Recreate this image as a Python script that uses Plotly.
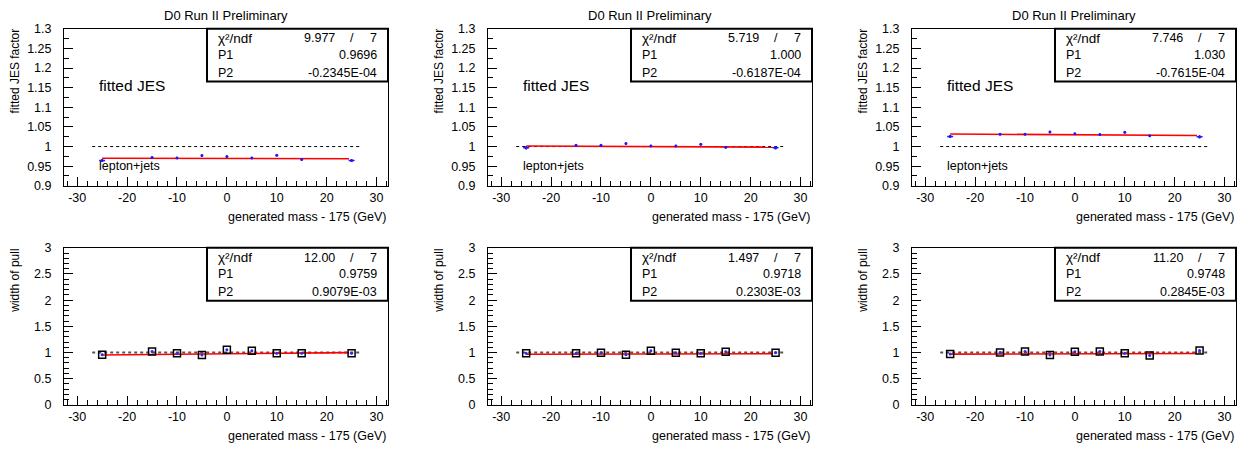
import plotly.graph_objects as go

W, H = 1246, 453
FONT = "Liberation Sans, Arial, Helvetica, sans-serif"

# Generated top mass minus 175 GeV for each sample
mass = [-25, -15, -10, -5, 0, 5, 10, 15, 25]

# Fitted JES factor, three ensembles
jes_1 = [0.9645, 0.972, 0.971, 0.977, 0.9745, 0.971, 0.978, 0.967, 0.9645]
jes_2 = [0.9967, 1.0033, 1.0033, 1.0075, 1.0017, 1.0017, 1.0058, 0.9983, 0.9967]
jes_3 = [1.0257, 1.0315, 1.0315, 1.0373, 1.0323, 1.0306, 1.0364, 1.0273, 1.0248]
jes_err = [0.004, 0.003, 0.003, 0.003, 0.003, 0.003, 0.003, 0.003, 0.004]
jes_xerr = [0.6, 0, 0, 0, 0, 0, 0, 0, 0.6]

# Width of pull, three ensembles
pull_1 = [0.958, 1.02, 0.983, 0.952, 1.051, 1.033, 0.983, 0.983, 0.983]
pull_2 = [0.983, 0.983, 0.996, 0.958, 1.033, 0.996, 0.983, 1.014, 0.996]
pull_3 = [0.971, 1.002, 1.02, 0.952, 1.014, 1.02, 0.983, 0.94, 1.039]
pull_err = [0.02] * 9

# Linear fit results: chi2, ndf, P1 (offset), P2 (slope)
fit_jes = [
    ("9.977", "7", 0.9696, -0.2345e-04, "0.9696", "-0.2345E-04"),
    ("5.719", "7", 1.000, -0.6187e-04, "1.000", "-0.6187E-04"),
    ("7.746", "7", 1.030, -0.7615e-04, "1.030", "-0.7615E-04"),
]
fit_pull = [
    ("12.00", "7", 0.9759, 0.9079e-03, "0.9759", "0.9079E-03"),
    ("1.497", "7", 0.9718, 0.2303e-03, "0.9718", "0.2303E-03"),
    ("11.20", "7", 0.9748, 0.2845e-03, "0.9748", "0.2845E-03"),
]
fit_x = [-25, 24.5]
unity_x = [-27, 27]
unity_y = [1.0, 1.0]

# Axis ticks
x_ticks = [-30, -20, -10, 0, 10, 20, 30]
x_ticktext = ["-30", "-20", "-10", "0", "10", "20", "30"]
jes_ticks = [0.9, 0.95, 1.0, 1.05, 1.1, 1.15, 1.2, 1.25, 1.3]
jes_ticktext = ["0.9", "0.95", "1", "1.05", "1.1", "1.15", "1.2", "1.25", "1.3"]
pull_ticks = [0, 0.5, 1, 1.5, 2, 2.5, 3]
pull_ticktext = ["0", "0.5", "1", "1.5", "2", "2.5", "3"]

X_RANGE = [-32.65, 32.3]
JES_RANGE = [0.9, 1.3]
PULL_RANGE = [0, 3]

# Frame geometry in pixels
COL_LEFT = [64, 488, 912]
FRAME_W = 324
ROW_TOP = [22.5, 248.5]
FRAME_H = 162


def fx(px):
    return px / W


def fy(py):
    return 1 - py / H


fig = go.Figure()
annotations = []
shapes = []

panels = [
    (0, 0, jes_1, fit_jes[0]), (0, 1, jes_2, fit_jes[1]), (0, 2, jes_3, fit_jes[2]),
    (1, 0, pull_1, fit_pull[0]), (1, 1, pull_2, fit_pull[1]), (1, 2, pull_3, fit_pull[2]),
]

for idx, (row, col, vals, fit) in enumerate(panels):
    n = idx + 1
    xa = "x" if n == 1 else f"x{n}"
    ya = "y" if n == 1 else f"y{n}"
    left = COL_LEFT[col]
    right = left + FRAME_W
    top = ROW_TOP[row]
    bottom = top + FRAME_H
    chi2, ndf, p1, p2, p1_txt, p2_txt = fit

    # dashed line at unity
    fig.add_trace(go.Scatter(
        x=unity_x, y=unity_y, xaxis=xa, yaxis=ya, mode="lines",
        line=dict(color="black" if row == 0 else "#555555",
                  width=1 if row == 0 else 1.8, dash="3px,3px"),
        hoverinfo="skip", showlegend=False))

    # fitted straight line
    fig.add_trace(go.Scatter(
        x=fit_x, y=[p1 + p2 * m for m in fit_x], xaxis=xa, yaxis=ya,
        mode="lines", line=dict(color="#ff0000", width=1.6),
        hoverinfo="skip", showlegend=False))

    if row == 0:
        fig.add_trace(go.Scatter(
            x=mass, y=vals, xaxis=xa, yaxis=ya, mode="markers",
            marker=dict(color="#1a1aff", size=3, symbol="circle"),
            error_y=dict(type="data", array=jes_err, color="#1a1aff",
                         thickness=1.5, width=0),
            error_x=dict(type="data", array=jes_xerr, color="#1a1aff",
                         thickness=1.5, width=0),
            showlegend=False))
    else:
        fig.add_trace(go.Scatter(
            x=mass, y=vals, xaxis=xa, yaxis=ya, mode="markers",
            marker=dict(color="#2a2aff", size=3, symbol="circle"),
            error_y=dict(type="data", array=pull_err, color="#2a2aff",
                         thickness=1, width=0),
            showlegend=False))
        fig.add_trace(go.Scatter(
            x=mass, y=vals, xaxis=xa, yaxis=ya, mode="markers",
            marker=dict(color="black", size=7, symbol="square-open",
                        line=dict(width=1.5, color="black")),
            showlegend=False))

    tickfont = dict(family=FONT, size=12.5, color="black")
    xaxis = dict(
        domain=[fx(left), fx(right)], range=X_RANGE, anchor=ya,
        showline=True, linecolor="black", linewidth=1, mirror=True,
        ticks="inside", ticklen=9, tickwidth=1, tickcolor="black",
        tickmode="array", tickvals=x_ticks, ticktext=x_ticktext,
        minor=dict(ticks="inside", ticklen=5, tickwidth=1, tickcolor="black",
                   tickmode="linear", tick0=0, dtick=2, showgrid=False),
        showgrid=False, zeroline=False, tickfont=tickfont,
        ticklabelstandoff=0, fixedrange=True)
    if row == 0:
        tv, tt, rng, minor_d = jes_ticks, jes_ticktext, JES_RANGE, 0.025
    else:
        tv, tt, rng, minor_d = pull_ticks, pull_ticktext, PULL_RANGE, 0.1
    yaxis = dict(
        domain=[fy(bottom), fy(top)], range=rng, anchor=xa,
        showline=True, linecolor="black", linewidth=1, mirror=True,
        ticks="inside", ticklen=9, tickwidth=1, tickcolor="black",
        tickmode="array", tickvals=tv, ticktext=tt,
        minor=dict(ticks="inside", ticklen=5, tickwidth=1, tickcolor="black",
                   tickmode="linear", tick0=0, dtick=minor_d, showgrid=False),
        showgrid=False, zeroline=False, tickfont=tickfont,
        ticklabelstandoff=9, fixedrange=True)
    fig.update_layout(**{("xaxis" if n == 1 else f"xaxis{n}"): xaxis,
                         ("yaxis" if n == 1 else f"yaxis{n}"): yaxis})

    # statistics box
    bl, bt, bb = left + 143, top, top + 54.5
    shapes.append(dict(type="rect", xref="paper", yref="paper",
                       x0=fx(bl), x1=fx(right), y0=fy(bb), y1=fy(bt),
                       line=dict(color="black", width=2), fillcolor="white",
                       layer="above"))
    sfont = dict(family=FONT, size=12.5, color="black")
    rows_y = [top + 10, top + 27.5, top + 46]
    annotations += [
        dict(text="χ²/ndf", x=fx(left + 152), y=fy(rows_y[0]),
             xanchor="left", yanchor="middle", font=dict(family=FONT, size=13.5)),
        dict(text=chi2, x=fx(left + 273), y=fy(rows_y[0]), xanchor="right",
             yanchor="middle", font=sfont),
        dict(text="/", x=fx(left + 287.5), y=fy(rows_y[0]), xanchor="center",
             yanchor="middle", font=sfont),
        dict(text=ndf, x=fx(left + 315), y=fy(rows_y[0]), xanchor="right",
             yanchor="middle", font=sfont),
        dict(text="P1", x=fx(left + 152), y=fy(rows_y[1]), xanchor="left",
             yanchor="middle", font=sfont),
        dict(text=p1_txt, x=fx(left + 315), y=fy(rows_y[1]), xanchor="right",
             yanchor="middle", font=sfont),
        dict(text="P2", x=fx(left + 152), y=fy(rows_y[2]), xanchor="left",
             yanchor="middle", font=sfont),
        dict(text=p2_txt, x=fx(left + 315), y=fy(rows_y[2]), xanchor="right",
             yanchor="middle", font=sfont),
    ]

    # axis titles
    annotations.append(dict(
        text="generated mass - 175 (GeV)", x=fx(right), y=fy(bottom + 32.5),
        xanchor="right", yanchor="middle",
        font=dict(family=FONT, size=12.5, color="black")))
    if row == 0:
        annotations.append(dict(
            text="fitted JES factor", x=fx(left - 49), y=fy(top + 44),
            textangle=-90, xanchor="center", yanchor="middle",
            font=dict(family=FONT, size=12, color="black")))
        annotations.append(dict(
            text="D0 Run II Preliminary", x=fx((left + right) / 2), y=fy(9),
            xanchor="center", yanchor="middle",
            font=dict(family=FONT, size=13, color="black")))
        annotations.append(dict(
            text="fitted JES", x=fx(left + 33), y=fy(81),
            xanchor="left", yanchor="middle",
            font=dict(family=FONT, size=15.5, color="black")))
        annotations.append(dict(
            text="lepton+jets", x=fx(left + 33), y=fy(164),
            xanchor="left", yanchor="middle",
            font=dict(family=FONT, size=12.5, color="black")))
    else:
        annotations.append(dict(
            text="width of pull", x=fx(left - 49), y=fy(top + 34),
            textangle=-90, xanchor="center", yanchor="middle",
            font=dict(family=FONT, size=12, color="black")))

for a in annotations:
    a.update(xref="paper", yref="paper", showarrow=False)

fig.update_layout(
    width=W, height=H, margin=dict(l=0, r=0, t=0, b=0),
    paper_bgcolor="white", plot_bgcolor="white",
    annotations=annotations, shapes=shapes, showlegend=False,
    font=dict(family=FONT, color="black"))

fig.write_html("out.html", config={"displayModeBar": False})
